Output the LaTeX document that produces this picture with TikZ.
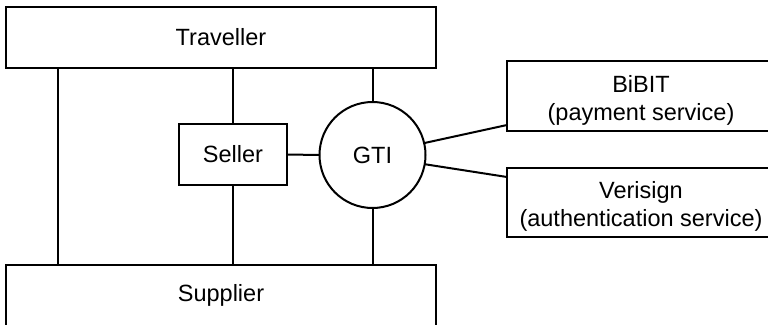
\documentclass[tikz,border=0pt]{standalone}
\usepackage{fontspec}
\setmainfont{Liberation Sans}
\begin{document}
\begin{tikzpicture}[x=1pt,y=-1pt,
  every node/.style={inner sep=0pt,outer sep=0pt,font=\fontsize{23.5}{28}\selectfont},
  box/.style={draw,line width=2pt,rectangle,align=center},
  conn/.style={line width=2pt},
  twoline/.style={label={[align=center,yshift=-4pt,font=\fontsize{23.5}{28}\selectfont]center:#1}}]
\useasboundingbox (0,0) rectangle (768,324);
\clip (0,0) rectangle (768,324);
\node[box,minimum width=430pt,minimum height=61pt] (traveller) at (221,37.5) {Traveller};
\node[box,minimum width=430pt,minimum height=61pt] (supplier) at (221,295.5) {Supplier};
\node[box,minimum width=108pt,minimum height=61pt] (seller) at (233,154.5) {Seller};
\node[draw,line width=2pt,circle,minimum size=106pt] (gti) at (372.5,155) {GTI};
\node[box,minimum width=268pt,minimum height=70pt,twoline={BiBIT\\(payment service)}] (bibit) at (641,96) {};
\node[box,minimum width=268pt,minimum height=69pt,twoline={Verisign\\(authentication service)}] (verisign) at (641,202.5) {};
\draw[conn] ([xshift=52pt]traveller.south west) -- ([xshift=52pt]supplier.north west);
\draw[conn] (seller.north) -- (seller.north |- traveller.south);
\draw[conn] (seller.south) -- (seller.south |- supplier.north);
\draw[conn] (gti.north) -- (gti.north |- traveller.south);
\draw[conn] (gti.south) -- (gti.south |- supplier.north);
\draw[conn] (seller.east) -- (gti.west);
\draw[conn] (gti.13) -- ([yshift=6pt]bibit.south west);
\draw[conn] (gti.-10) -- ([yshift=-9pt]verisign.north west);
\end{tikzpicture}
\end{document}
